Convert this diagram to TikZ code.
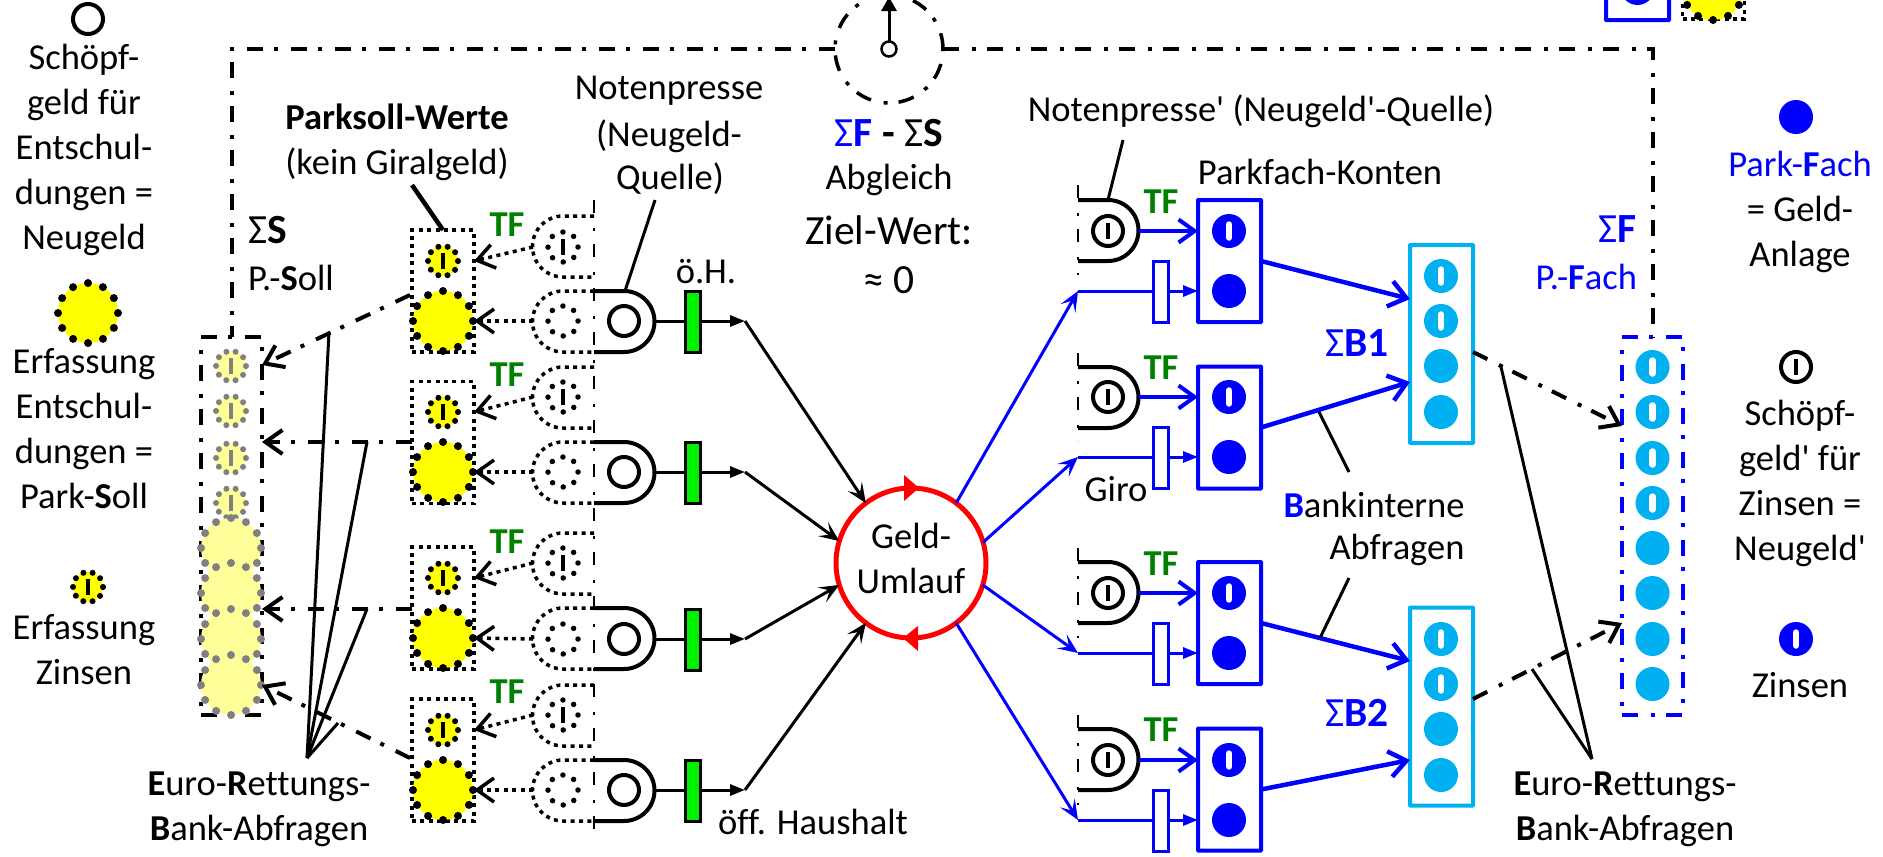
\documentclass[tikz,border=0pt]{standalone}
\usepackage{fontspec}
\setmainfont{Carlito}[Ligatures={TeXOff,NoCommon}]
\usetikzlibrary{arrows.meta}
\definecolor{bankblau}{HTML}{00B0F0}
\definecolor{hellgelb}{HTML}{FFFF99}
\definecolor{geldgelb}{HTML}{FFFF00}
\definecolor{tfgruen}{HTML}{008000}
\definecolor{oeffgruen}{HTML}{00F000}
\tikzset{
  every node/.style={inner sep=0pt, outer sep=0pt, font=\fontsize{36.5}{45}\selectfont},
  txt/.style={align=center},
  gross/.style={font=\fontsize{41.5}{50}\selectfont},
  tf/.style={text=tfgruen, font=\fontsize{36.5}{45}\selectfont\bfseries},
  strich/.style={path picture={\draw[solid, line cap=butt, line width=3.5pt, #1]
    ([yshift=-8pt]path picture bounding box.center) -- ([yshift=8pt]path picture bounding box.center);}},
  weissstrich/.style={path picture={\draw[solid, line cap=round, line width=6.5pt, white]
    ([yshift=-6.5pt]path picture bounding box.center) -- ([yshift=6.5pt]path picture bounding box.center);}},
  ring/.style={circle, draw, line width=4pt, minimum size=30pt},
  gelbgross/.style={circle, draw, fill=geldgelb, line width=8pt, line cap=round, dash pattern=on 0pt off 15.7pt, minimum size=60pt},
  gelbklein/.style={circle, draw, fill=geldgelb, line width=6pt, line cap=round, dash pattern=on 0pt off 9.4pt, minimum size=30pt, strich=black},
  blassgross/.style={gelbgross, draw=gray, fill=hellgelb},
  blassklein/.style={circle, draw=gray, fill=hellgelb, line width=6pt, line cap=round, dash pattern=on 0pt off 9.4pt, minimum size=30pt, strich=gray},
  geist/.style={circle, draw, line width=5.5pt, line cap=round, dash pattern=on 0pt off 11.8pt, minimum size=30pt},
  geistzins/.style={geist, strich=black},
  fach/.style={circle, fill=blue, minimum size=34pt},
  zins/.style={fach, weissstrich},
  bfach/.style={circle, fill=bankblau, minimum size=34pt},
  bzins/.style={bfach, weissstrich},
  punktiert/.style={line width=3.5pt, dash pattern=on 4pt off 4.4pt},
  parkbox/.style={draw, punktiert, minimum width=62pt, minimum height=122pt},
  konto/.style={draw=blue, line width=4pt, rounded corners=0.5pt, minimum width=63pt, minimum height=122pt},
  bank/.style={draw=bankblau, line width=4pt, rounded corners=0.5pt, minimum width=63pt, minimum height=198pt},
  strichpunkt/.style={line width=4pt, dash pattern=on 16pt off 13pt on 4pt off 11pt},
  naht/.style={line width=2.5pt, dash pattern=on 13pt off 15pt on 3pt off 13pt},
  spalte/.style={draw, strichpunkt, minimum width=61pt, minimum height=378pt},
  gruenbalken/.style={draw, fill=oeffgruen, line width=3pt, minimum width=15pt, minimum height=61pt},
  tor/.style={draw=blue, fill=white, line width=3pt, minimum width=15pt, minimum height=61pt},
  presse/.style={line width=4pt},
  geistpresse/.style={punktiert},
  leitung/.style={line width=3pt},
  hinweis/.style={line width=3pt},
  fluss/.style={leitung, -{Stealth[length=20pt, width=17pt, inset=9pt]}},
  oeffnung/.style={-{Straight Barb[length=17pt, width=24pt]}},
  duenn/.style={draw=blue, line width=3pt},
  mittel/.style={draw=blue, line width=4pt, -{Straight Barb[length=16pt, width=23pt]}},
  stark/.style={draw=blue, line width=4.5pt, -{Straight Barb[length=17pt, width=26pt]}},
  kleinspitze/.style={-{Triangle[length=15pt, width=11pt]}},
  offenblau/.style={duenn, -{Stealth[length=20pt, width=17pt, inset=9pt]}},
}
\begin{document}
\begin{tikzpicture}[x=1pt, y=-1pt]
  \useasboundingbox (0,0) rectangle (1883,857);
  \clip (0,0) rectangle (1883,857);

  % Legend on the left
  \node[ring] (lg1) at (88,19) {};
  \node[txt] (lgt1) at (84,150) {Schöpf-\\geld für\\Entschul-\\dungen =\\Neugeld};
  \node[gelbgross] (lg2) at (88,313) {};
  \node[txt] (lgt2) at (84,429) {Erfassung\\Entschul-\\dungen =\\Park-\textbf{S}oll};
  \node[gelbklein] (lg3) at (88,587) {};
  \node[txt] (lgt3) at (84,650) {Erfassung\\Zinsen};

  % Legend on the right
  \node[fach] (lg4) at (1796,117) {};
  \node[txt] (lgt4) at (1800,212) {\textcolor{blue}{Park-\textbf{F}ach}\\= Geld-\\Anlage};
  \node[ring, strich=black] (lg5) at (1796,367) {};
  \node[txt] (lgt5) at (1800,483) {Schöpf-\\geld' für\\Zinsen =\\Neugeld'};
  \node[zins] (lg6) at (1796,639) {};
  \node (lgt6) at (1800,685) {Zinsen};

  % Cut off at the upper edge
  \node[konto] (lg7) at (1637.5,-41) {};
  \node[fach] (lg8) at (1637.5,-12) {};
  \node[parkbox] (lg9) at (1713.5,-42) {};
  \node[gelbgross] (lg10) at (1713,-10) {};

  % Columns and the balance circle
  \node[spalte] (spalteS) at (231.5,526) {};
  \node[spalte, draw=blue] (spalteF) at (1652.5,526) {};
  \node[circle, draw, strichpunkt, line width=3.5pt, minimum size=108pt] (abgleich) at (889,49) {};
  \node[circle, draw, line width=2.5pt, minimum size=15pt] (zeiger) at (889,49) {};
  \coordinate (oben) at (889,-3);
  \draw[leitung, -{Triangle[length=14pt, width=15pt]}] (zeiger) -- (oben);
  \draw[strichpunkt] (abgleich.west) -| (spalteS.north);
  \draw[strichpunkt] (abgleich.east) -| (spalteF.north);
  \node[gross] (abgl1) at (889,133) {\textcolor{blue}{Σ\textbf{F}} \textbf{-} Σ\textbf{S}};
  \node (abgl2) at (889,180) {Abgleich};
  \node[gross] (abgl3) at (889,230) {Ziel-Wert:};
  \node[gross] (abgl4) at (889,280) {≈ 0};

  % S column
  \node[blassklein] (s1) at (231,366) {};
  \node[blassklein] (s2) at (231,411) {};
  \node[blassklein] (s3) at (231,458) {};
  \node[blassklein] (s4) at (231,503) {};
  \node[blassgross] (s5) at (231,548) {};
  \node[blassgross] (s6) at (231,593) {};
  \node[blassgross] (s7) at (231,639) {};
  \node[blassgross] (s8) at (231,685) {};
  \node[gross, anchor=west] (sumS) at (248,230) {Σ\textbf{S}};
  \node[anchor=west] (sollS) at (248,278) {P.-\textbf{S}oll};

  % Parksoll boxes
  \node[parkbox] (park1) at (443,291) {};
  \node[parkbox] (park2) at (443,442.5) {};
  \node[parkbox] (park3) at (443,608) {};
  \node[parkbox] (park4) at (443,760) {};
  \node[gelbklein] (z1) at (443,261) {};
  \node[gelbgross] (g1) at (443,321) {};
  \node[gelbklein] (z2) at (443,412) {};
  \node[gelbgross] (g2) at (443,472) {};
  \node[gelbklein] (z3) at (443,578) {};
  \node[gelbgross] (g3) at (443,638) {};
  \node[gelbklein] (z4) at (443,730) {};
  \node[gelbgross] (g4) at (443,790) {};
  \node[txt] (parktxt) at (397,142) {\textbf{Parksoll-Werte}\\(kein Giralgeld)};
  \coordinate (parkend) at (412,185);
  \draw[line width=4.5pt] (parkend) -- (park1.north);

  % Dotted presses
  \node[geistzins] (gz1) at (563,247) {};
  \node[geist] (gg1) at (563,321) {};
  \node[geistzins] (gz2) at (563,397) {};
  \node[geist] (gg2) at (563,472) {};
  \node[geistzins] (gz3) at (563,563) {};
  \node[geist] (gg3) at (563,639) {};
  \node[geistzins] (gz4) at (563,715) {};
  \node[geist] (gg4) at (563,790) {};
  \draw[geistpresse] (594,216) -- (563,216) arc (-90:-270:30.5) -- (594,277);
  \draw[geistpresse] (594,291) -- (563,291) arc (-90:-270:30.5) -- (594,352);
  \draw[geistpresse] (594,367) -- (563,367) arc (-90:-270:30.5) -- (594,428);
  \draw[geistpresse] (594,442) -- (563,442) arc (-90:-270:30.5) -- (594,503);
  \draw[geistpresse] (594,533) -- (563,533) arc (-90:-270:30.5) -- (594,594);
  \draw[geistpresse] (594,608) -- (563,608) arc (-90:-270:30.5) -- (594,669);
  \draw[geistpresse] (594,685) -- (563,685) arc (-90:-270:30.5) -- (594,746);
  \draw[geistpresse] (594,760) -- (563,760) arc (-90:-270:30.5) -- (594,821);
  \coordinate (nahtL1) at (594,200);
  \coordinate (nahtL2) at (594,832);
  \draw[naht] (nahtL1) -- (nahtL2);
  \draw[punktiert, oeffnung] ([xshift=-30pt]gz1.center) -- (park1.east |- z1);
  \draw[punktiert, oeffnung] ([xshift=-30pt]gg1.center) -- (park1.east |- g1);
  \draw[punktiert, oeffnung] ([xshift=-30pt]gz2.center) -- (park2.east |- z2);
  \draw[punktiert, oeffnung] ([xshift=-30pt]gg2.center) -- (park2.east |- g2);
  \draw[punktiert, oeffnung] ([xshift=-30pt]gz3.center) -- (park3.east |- z3);
  \draw[punktiert, oeffnung] ([xshift=-30pt]gg3.center) -- (park3.east |- g3);
  \draw[punktiert, oeffnung] ([xshift=-30pt]gz4.center) -- (park4.east |- z4);
  \draw[punktiert, oeffnung] ([xshift=-30pt]gg4.center) -- (park4.east |- g4);
  \node[tf] (tf1) at (507,225) {TF};
  \node[tf] (tf2) at (507,375) {TF};
  \node[tf] (tf3) at (507,542) {TF};
  \node[tf] (tf4) at (507,692) {TF};

  % Presses and the public budget
  \node[ring] (p1) at (624,321) {};
  \node[ring] (p2) at (624,472) {};
  \node[ring] (p3) at (624,639) {};
  \node[ring] (p4) at (624,790) {};
  \draw[presse] (594,291) -- (624,291) arc (-90:90:30.5) -- (594,352);
  \draw[presse] (594,442) -- (624,442) arc (-90:90:30.5) -- (594,503);
  \draw[presse] (594,608) -- (624,608) arc (-90:90:30.5) -- (594,669);
  \draw[presse] (594,760) -- (624,760) arc (-90:90:30.5) -- (594,821);
  \node[gruenbalken] (oeh1) at (692.5,321.5) {};
  \node[gruenbalken] (oeh2) at (692.5,472.5) {};
  \node[gruenbalken] (oeh3) at (692.5,639.5) {};
  \node[gruenbalken] (oeh4) at (692.5,790.5) {};
  \node (noten1) at (669,91) {Notenpresse};
  \node (noten2) at (669,136) {(Neugeld-};
  \node (noten3) at (670,179) {Quelle)};
  \coordinate (notenend) at (655,200);
  \coordinate (notenan) at (625,291);
  \draw[hinweis] (notenend) -- (notenan);
  \node (oehtxt) at (706,272) {ö.H.};
  \node (hhtxt) at (813,822) {öff. Haushalt};

  % Money circulation
  \node[circle, draw=red, line width=5pt, minimum size=150pt] (umlauf) at (911,563) {};
  \node[txt] (umlauftxt) at (911,558) {Geld-\\Umlauf};
  \fill[red] (904,475) -- (919,488) -- (904,501) -- cycle;
  \fill[red] (918,626) -- (903,638) -- (918,651) -- cycle;
  \coordinate (j1) at (745,321);
  \coordinate (j2) at (745,472);
  \coordinate (j3) at (745,639);
  \coordinate (j4) at (745,790);
  \draw[leitung] ([xshift=16pt]p1.east) -- (oeh1.west |- p1);
  \draw[leitung] ([xshift=16pt]p2.east) -- (oeh2.west |- p2);
  \draw[leitung] ([xshift=16pt]p3.east) -- (oeh3.west |- p3);
  \draw[leitung] ([xshift=16pt]p4.east) -- (oeh4.west |- p4);
  \draw[leitung, kleinspitze] (oeh1.east |- j1) -- (j1);
  \draw[leitung, kleinspitze] (oeh2.east |- j2) -- (j2);
  \draw[leitung, kleinspitze] (oeh3.east |- j3) -- (j3);
  \draw[leitung, kleinspitze] (oeh4.east |- j4) -- (j4);
  \draw[fluss] (j1) -- (umlauf.127);
  \draw[fluss] (j2) -- (umlauf.163);
  \draw[fluss] (j3) -- (umlauf.197);
  \draw[fluss] (j4) -- (umlauf.233);

  % Presses on the right
  \node[ring, strich=black] (q1) at (1108,231) {};
  \node[ring, strich=black] (q2) at (1108,397) {};
  \node[ring, strich=black] (q3) at (1108,593) {};
  \node[ring, strich=black] (q4) at (1108,760) {};
  \draw[presse] (1078,200) -- (1108,200) arc (-90:90:30.5) -- (1078,261);
  \draw[presse] (1078,367) -- (1108,367) arc (-90:90:30.5) -- (1078,428);
  \draw[presse] (1078,562) -- (1108,562) arc (-90:90:30.5) -- (1078,623);
  \draw[presse] (1078,729) -- (1108,729) arc (-90:90:30.5) -- (1078,790);
  \draw[naht] (1078,185) -- (1078,275);
  \draw[naht] (1078,353) -- (1078,441);
  \draw[naht] (1078,548) -- (1078,638);
  \draw[naht] (1078,715) -- (1078,805);
  \node[tf] (tf5) at (1161,202) {TF};
  \node[tf] (tf6) at (1161,368) {TF};
  \node[tf] (tf7) at (1161,564) {TF};
  \node[tf] (tf8) at (1161,730) {TF};
  \node (notenstrich) at (1261,111) {Notenpresse' (Neugeld'-Quelle)};
  \coordinate (strichend) at (1123,140);
  \coordinate (strichan) at (1108,200);
  \draw[hinweis] (strichend) -- (strichan);
  \node (kontotxt) at (1320,172) {Parkfach-Konten};
  \node (girotxt) at (1116,489) {Giro};

  % Park accounts
  \node[konto] (k1) at (1229.5,261) {};
  \node[konto] (k2) at (1229.5,427.5) {};
  \node[konto] (k3) at (1229.5,623) {};
  \node[konto] (k4) at (1229.5,789.5) {};
  \node[zins] (kz1) at (1229,231) {};
  \node[fach] (kf1) at (1229,291) {};
  \node[zins] (kz2) at (1229,397) {};
  \node[fach] (kf2) at (1229,457) {};
  \node[zins] (kz3) at (1229,593) {};
  \node[fach] (kf3) at (1229,653) {};
  \node[zins] (kz4) at (1229,760) {};
  \node[fach] (kf4) at (1229,820) {};
  \draw[mittel] ([xshift=16pt]q1.east) -- (k1.west |- q1);
  \draw[mittel] ([xshift=16pt]q2.east) -- (k2.west |- q2);
  \draw[mittel] ([xshift=16pt]q3.east) -- (k3.west |- q3);
  \draw[mittel] ([xshift=16pt]q4.east) -- (k4.west |- q4);

  % Giro lines with their gates
  \node[tor] (t1) at (1160.5,291.5) {};
  \node[tor] (t2) at (1160.5,457.5) {};
  \node[tor] (t3) at (1160.5,653.5) {};
  \node[tor] (t4) at (1160.5,820.5) {};
  \coordinate (r1) at (1078,291);
  \coordinate (r2) at (1078,457);
  \coordinate (r3) at (1078,653);
  \coordinate (r4) at (1078,820);
  \draw[duenn] (r1) -- (t1.west |- r1);
  \draw[duenn] (r2) -- (t2.west |- r2);
  \draw[duenn] (r3) -- (t3.west |- r3);
  \draw[duenn] (r4) -- (t4.west |- r4);
  \draw[duenn, kleinspitze] (t1.east |- r1) -- (k1.west |- r1);
  \draw[duenn, kleinspitze] (t2.east |- r2) -- (k2.west |- r2);
  \draw[duenn, kleinspitze] (t3.east |- r3) -- (k3.west |- r3);
  \draw[duenn, kleinspitze] (t4.east |- r4) -- (k4.west |- r4);
  \draw[offenblau] (umlauf.53) -- (r1);
  \draw[offenblau] (umlauf.16) -- (r2);
  \draw[offenblau] (umlauf.-17) -- (r3);
  \draw[offenblau] (umlauf.-53) -- (r4);

  % Bank boxes
  \node[bank] (b1) at (1441.5,344) {};
  \node[bank] (b2) at (1441.5,706.5) {};
  \node[bzins] (b1a) at (1441,276) {};
  \node[bzins] (b1b) at (1441,321) {};
  \node[bfach] (b1c) at (1441,366) {};
  \node[bfach] (b1d) at (1441,412) {};
  \node[bzins] (b2a) at (1441,639) {};
  \node[bzins] (b2b) at (1441,684) {};
  \node[bfach] (b2c) at (1441,729) {};
  \node[bfach] (b2d) at (1441,775) {};
  \coordinate (e1) at (1410,299);
  \coordinate (e2) at (1410,382);
  \coordinate (e3) at (1410,661);
  \coordinate (e4) at (1410,760);
  \draw[stark] (k1.east) -- (e1);
  \draw[stark] (k2.east) -- (e2);
  \draw[stark] (k3.east) -- (e3);
  \draw[stark] (k4.east) -- (e4);
  \node[gross, text=blue] (sumB1) at (1357,343) {Σ\textbf{B1}};
  \node[gross, text=blue] (sumB2) at (1357,713) {Σ\textbf{B2}};
  \node (bintern1) at (1374,505) {\textcolor{blue}{\textbf{B}}ankinterne};
  \node (bintern2) at (1397,550) {Abfragen};
  \coordinate (h1) at (1349,472);
  \coordinate (h2) at (1319,412);
  \coordinate (h3) at (1349,578);
  \coordinate (h4) at (1320,638);
  \draw[hinweis] (h1) -- (h2);
  \draw[hinweis] (h3) -- (h4);

  % F column
  \node[bzins] (f1) at (1652.5,367) {};
  \node[bzins] (f2) at (1652.5,412) {};
  \node[bzins] (f3) at (1652.5,458) {};
  \node[bzins] (f4) at (1652.5,503) {};
  \node[bfach] (f5) at (1652.5,548) {};
  \node[bfach] (f6) at (1652.5,593) {};
  \node[bfach] (f7) at (1652.5,639) {};
  \node[bfach] (f8) at (1652.5,684) {};
  \node[gross, anchor=east, text=blue] (sumF) at (1637,229) {Σ\textbf{F}};
  \node[anchor=east, text=blue] (fachF) at (1637,277) {P.-\textbf{F}ach};

  % Dash-dotted queries
  \coordinate (ls1) at (262,365);
  \coordinate (ls2) at (262,442);
  \coordinate (ls3) at (262,609);
  \coordinate (ls4) at (262,685);
  \coordinate (lb1) at (1473,352);
  \coordinate (lb2) at (1473,699);
  \coordinate (rf1) at (1622,426);
  \coordinate (rf2) at (1622,623);
  \coordinate (lp1) at (410,295);
  \coordinate (lp2) at (412,442);
  \coordinate (lp3) at (412,609);
  \coordinate (lp4) at (410,758);
  \draw[strichpunkt, oeffnung] (lp1) -- (ls1);
  \draw[strichpunkt, oeffnung] (lp2) -- (ls2);
  \draw[strichpunkt, oeffnung] (lp3) -- (ls3);
  \draw[strichpunkt, oeffnung] (lp4) -- (ls4);
  \draw[strichpunkt, oeffnung] (lb1) -- (rf1);
  \draw[strichpunkt, oeffnung] (lb2) -- (rf2);

  % Euro-Rettungs leaders
  \node[txt] (erb1) at (259,809) {\textbf{E}uro-\textbf{R}ettungs-\\\textbf{B}ank-Abfragen};
  \node[txt] (erb2) at (1625,809) {\textbf{E}uro-\textbf{R}ettungs-\\\textbf{B}ank-Abfragen};
  \coordinate (apex1) at (307,758);
  \coordinate (apex2) at (1592,759);
  \coordinate (w1) at (329,332);
  \coordinate (w2) at (367,442);
  \coordinate (w3) at (367,609);
  \coordinate (w4) at (338,723);
  \coordinate (w5) at (1501,367);
  \coordinate (w6) at (1532,669);
  \draw[hinweis] (apex1) -- (w1);
  \draw[hinweis] (apex1) -- (w2);
  \draw[hinweis] (apex1) -- (w3);
  \draw[hinweis] (apex1) -- (w4);
  \draw[hinweis] (apex2) -- (w5);
  \draw[hinweis] (apex2) -- (w6);
\end{tikzpicture}
\end{document}
